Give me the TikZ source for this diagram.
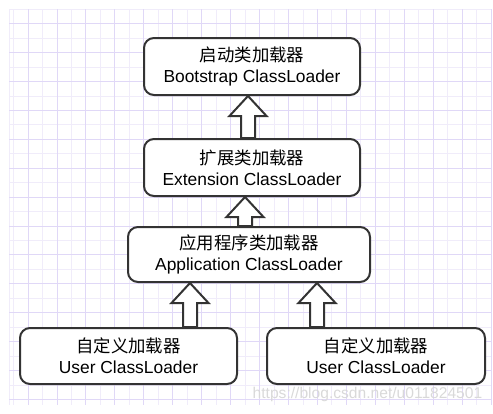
\documentclass[tikz,border=0pt]{standalone}
\usepackage{fontspec}
\setmainfont{Liberation Sans}
\newfontfamily\cjk{Noto Sans CJK SC}
\usetikzlibrary{calc}

\definecolor{lineGray}{HTML}{333333}
\definecolor{gridMajor}{HTML}{E0D8F7}
\definecolor{gridMinor}{HTML}{F0ECFA}

\tikzset{
    loader/.style={draw=lineGray, line width=2pt, fill=white, rounded corners=10pt,
        align=center, inner sep=0pt, font=\fontsize{17.4}{21}\selectfont},
    upshift/.style={draw=lineGray, line width=2pt, fill=white, line join=miter,
        to path={let \p1=(\tikztostart), \p2=(\tikztotarget) in
            (\x1-7pt,\y1) -- (\x1-7pt,\y2-20pt) -- (\x1-18.5pt,\y2-20pt) -- (\x1,\y2)
            -- (\x1+18.5pt,\y2-20pt) -- (\x1+7pt,\y2-20pt) -- (\x1+7pt,\y1) -- cycle}}
}

\begin{document}
\begin{tikzpicture}[x=1pt, y=-1pt]
            \useasboundingbox (0,0) rectangle (493,413);
            % background grid
            \draw[gridMinor, line width=1pt] (9,9) -- (9,405);
            \foreach \i in {0,...,33}
            {
                \draw[gridMinor, line width=1pt] ({13.6+14.47*\i},9) -- ({13.6+14.47*\i},405);
            }
            \foreach \j in {0,...,27}
            {
                \draw[gridMinor, line width=1pt] (9,{9.3+14.45*\j}) -- (491,{9.3+14.45*\j});
            }
            \foreach \i in {0,...,16}
            {
                \draw[gridMajor, line width=1pt] ({28.1+28.94*\i},9) -- ({28.1+28.94*\i},405);
            }
            \foreach \j in {0,...,13}
            {
                \draw[gridMajor, line width=1pt] (9,{23.75+28.9*\j}) -- (491,{23.75+28.9*\j});
            }

            % loaders
            \node[loader, minimum width=216pt, minimum height=57pt] (boot) at (252,66.5) {{\cjk 启动类加载器}\\Bootstrap ClassLoader};
            \node[loader, minimum width=216pt, minimum height=57pt] (ext) at (252,167.5) {{\cjk 扩展类加载器}\\Extension ClassLoader};
            \node[loader, minimum width=242pt, minimum height=55pt] (app) at (249,254.5) {{\cjk 应用程序类加载器}\\Application ClassLoader};
            \node[loader, minimum width=217pt, minimum height=56pt] (userL) at (128.5,356) {{\cjk 自定义加载器}\\User ClassLoader};
            \node[loader, minimum width=218pt, minimum height=56pt] (userR) at (376,356) {{\cjk 自定义加载器}\\User ClassLoader};

            % delegation arrows
            \draw[upshift] ([xshift=-4pt]ext.north) to ([xshift=-4pt]boot.south);
            \draw[upshift] ([xshift=-4pt]app.north) to ([xshift=-4pt]ext.south);
            \draw[upshift] ([xshift=61.5pt]userL.north) to ([xshift=-59pt]app.south);
            \draw[upshift] ([xshift=-59pt]userR.north) to ([xshift=68pt]app.south);

            %\node at (367.5,398.5) {};
            \node[text=gray!30, font=\fontsize{15.6}{18}\selectfont, anchor=base] (mark) at (367.5,398.5) {https://blog.csdn.net/u011824501};
        \end{tikzpicture}
\end{document}
